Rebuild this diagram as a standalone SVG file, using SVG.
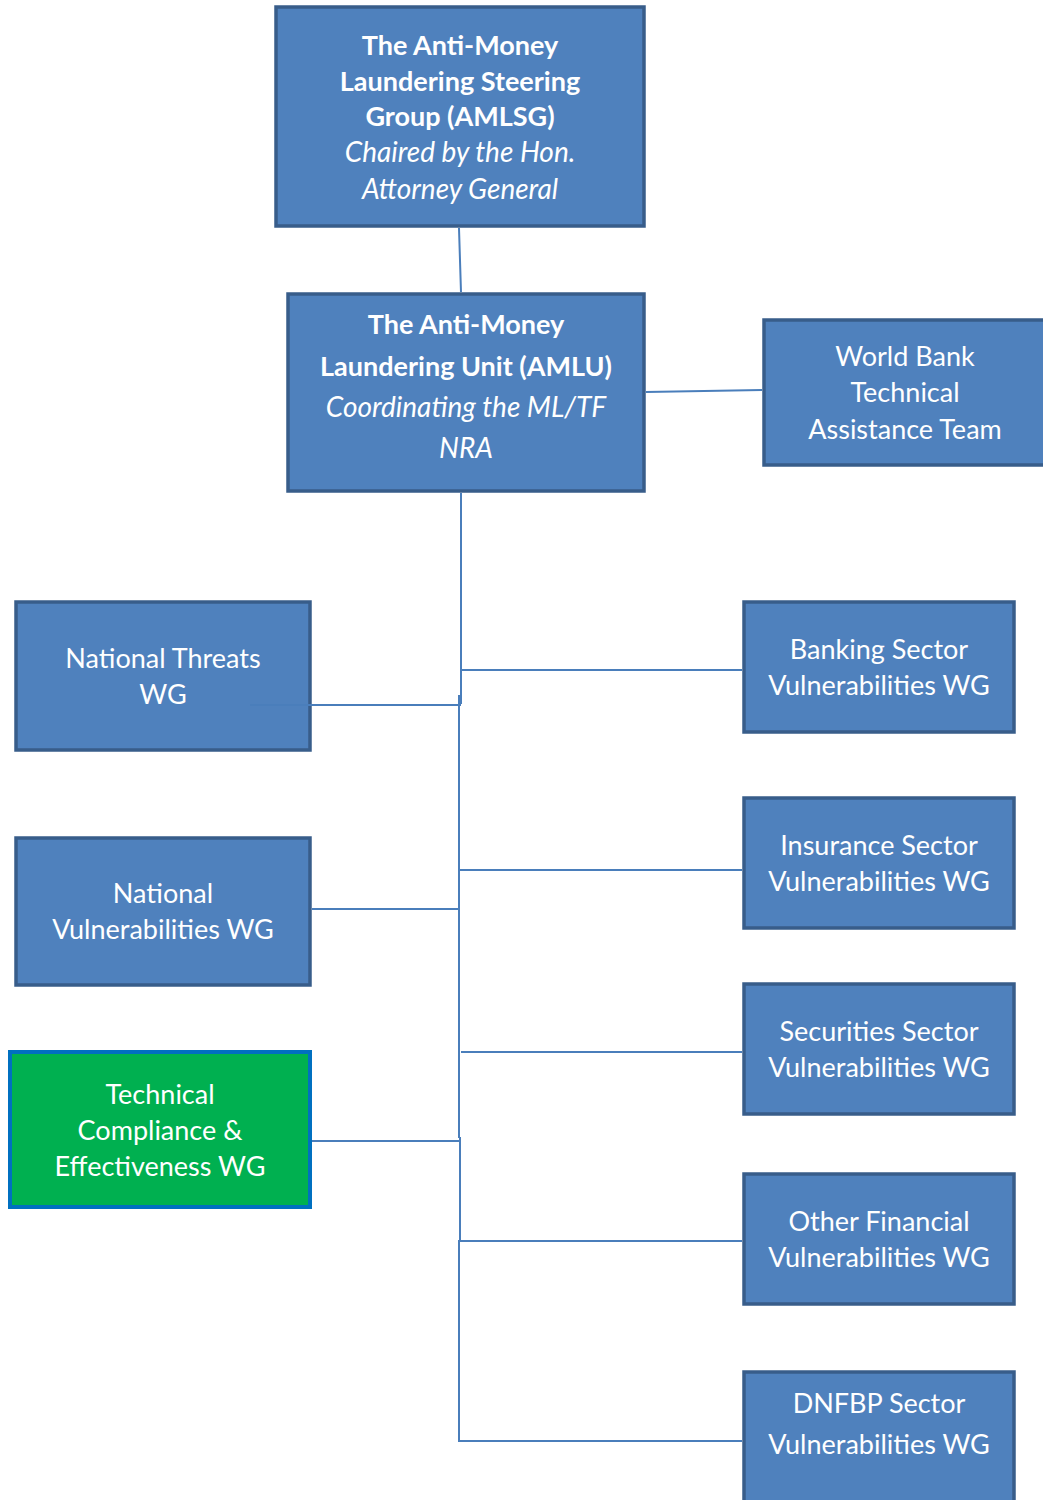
<svg xmlns="http://www.w3.org/2000/svg" width="1043" height="1500" viewBox="0 0 1043 1500">
<style>
.box{fill:#4f81bd;stroke:#385d8a;stroke-width:3.5}
.green{fill:#00b050;stroke:#0070c0;stroke-width:4}
.t{font-family:Lato,"Open Sans","Liberation Sans",sans-serif;font-size:27px;fill:#ffffff;text-anchor:middle}
.b{font-weight:bold}
.i{font-style:italic;font-size:28px}
.c{fill:none;stroke:#4a7ebb;stroke-width:2}
</style>
<rect width="1043" height="1500" fill="#ffffff"/>
<g id="amlsg">
<rect class="box" x="276" y="7" width="368" height="219"/>
<text class="t b" x="460" y="55">The Anti-Money</text>
<text class="t b" x="460" y="91">Laundering Steering</text>
<text class="t b" x="460" y="126">Group (AMLSG)</text>
<text class="t i" x="460" y="162">Chaired by the Hon.</text>
<text class="t i" x="460" y="199">Attorney General</text>
</g>
<g id="amlu">
<rect class="box" x="288" y="294" width="356" height="197"/>
<text class="t b" x="466" y="334">The Anti-Money</text>
<text class="t b" x="466" y="376">Laundering Unit (AMLU)</text>
<text class="t i" x="466" y="417">Coordinating the ML/TF</text>
<text class="t i" x="466" y="458">NRA</text>
</g>
<g id="worldbank">
<rect class="box" x="764" y="320" width="290" height="145"/>
<text class="t" x="905" y="366">World Bank</text>
<text class="t" x="905" y="402">Technical</text>
<text class="t" x="905" y="439">Assistance Team</text>
</g>
<g id="threats">
<rect class="box" x="16" y="602" width="294" height="148"/>
<text class="t" x="163" y="668">National Threats</text>
<text class="t" x="163" y="704">WG</text>
</g>
<g id="natvuln">
<rect class="box" x="16" y="838" width="294" height="147"/>
<text class="t" x="163" y="903">National</text>
<text class="t" x="163" y="939">Vulnerabilities WG</text>
</g>
<g id="technical">
<rect class="green" x="10" y="1052" width="300" height="155"/>
<text class="t" x="160" y="1104">Technical</text>
<text class="t" x="160" y="1140">Compliance &amp;</text>
<text class="t" x="160" y="1176">Effectiveness WG</text>
</g>
<g id="banking">
<rect class="box" x="744" y="602" width="270" height="130"/>
<text class="t" x="879" y="659">Banking Sector</text>
<text class="t" x="879" y="695">Vulnerabilities WG</text>
</g>
<g id="insurance">
<rect class="box" x="744" y="798" width="270" height="130"/>
<text class="t" x="879" y="855">Insurance Sector</text>
<text class="t" x="879" y="891">Vulnerabilities WG</text>
</g>
<g id="securities">
<rect class="box" x="744" y="984" width="270" height="130"/>
<text class="t" x="879" y="1041">Securities Sector</text>
<text class="t" x="879" y="1077">Vulnerabilities WG</text>
</g>
<g id="otherfin">
<rect class="box" x="744" y="1174" width="270" height="130"/>
<text class="t" x="879" y="1231">Other Financial</text>
<text class="t" x="879" y="1267">Vulnerabilities WG</text>
</g>
<g id="dnfbp">
<rect class="box" x="744" y="1372" width="270" height="140"/>
<text class="t" x="879" y="1413">DNFBP Sector</text>
<text class="t" x="879" y="1454">Vulnerabilities WG</text>
</g>
<g id="connectors">
<path class="c" d="M459,228 L461,292"/>
<path class="c" d="M646,392 L762,390"/>
<path class="c" d="M461,493 L461,704"/>
<path class="c" d="M461,670 L742,670"/>
<path class="c" d="M250,705 L461,705" stroke="#4677b4"/>
<path class="c" d="M459,695 L459,1138"/>
<path class="c" d="M459,870 L742,870"/>
<path class="c" d="M312,909 L459,909"/>
<path class="c" d="M461,1052 L742,1052"/>
<path class="c" d="M312,1141 L460,1141"/>
<path class="c" d="M460,1137 L460,1241"/>
<path class="c" d="M459,1241 L742,1241"/>
<path class="c" d="M459,1240 L459,1441 L742,1441"/>
</g>
</svg>
